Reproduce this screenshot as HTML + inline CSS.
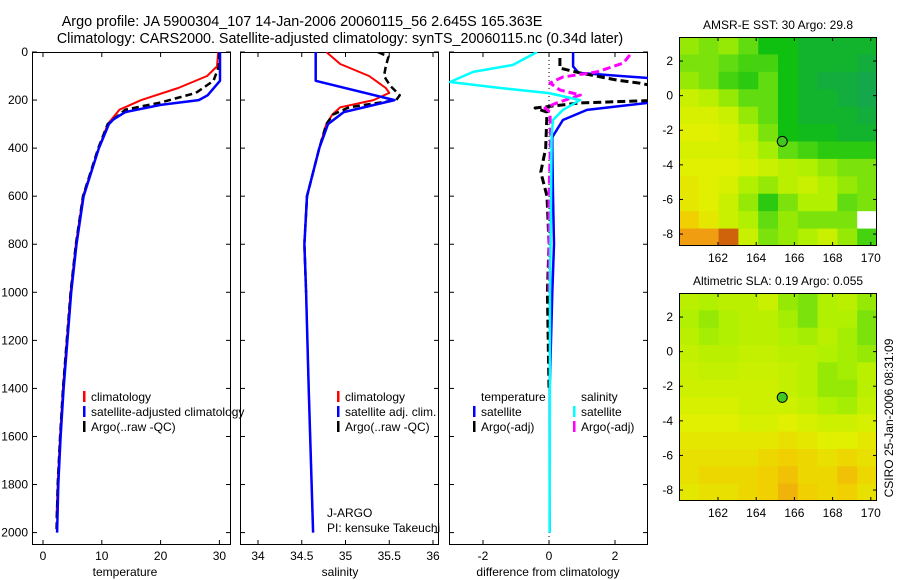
<!DOCTYPE html>
<html><head><meta charset="utf-8">
<style>
html,body{margin:0;padding:0;background:#fff;}
svg{display:block;font-family:"Liberation Sans",sans-serif;}
text{fill:#000;}
</style></head>
<body>
<svg id="fig" width="900" height="580" viewBox="0 0 900 580" xmlns="http://www.w3.org/2000/svg">
<text x="302" y="26" font-size="14.4" text-anchor="middle">Argo profile: JA 5900304_107 14-Jan-2006 20060115_56 2.645S 165.363E</text>
<text x="340" y="43" font-size="14.3" text-anchor="middle">Climatology: CARS2000. Satellite-adjusted climatology: synTS_20060115.nc (0.34d later)</text>
<g id="plots"></g>
<text x="125" y="576" font-size="12" text-anchor="middle">temperature</text>
<text x="340" y="576" font-size="12" text-anchor="middle">salinity</text>
<text x="548" y="576" font-size="12" text-anchor="middle">difference from climatology</text>
<text x="327" y="517" font-size="12">J-ARGO</text>
<text x="327" y="532" font-size="12">PI: kensuke Takeuchi</text>
<text x="778" y="29" font-size="12" text-anchor="middle">AMSR-E SST: 30 Argo: 29.8</text>
<text x="778" y="285" font-size="12" text-anchor="middle">Altimetric SLA: 0.19 Argo: 0.055</text>
<text transform="translate(893,418) rotate(-90)" font-size="12" text-anchor="middle">CSIRO 25-Jan-2006 08:31:09</text>
</svg>
<script>
// ---- profile data (depth in m) ----
const tClimDepth = [0,60,100,150,200,240,300,400,600,800,1000,1400,1600,1800,1940];
const tClim      = [29.8,29.6,27.9,23,16.7,13,11,9.5,6.8,5.6,4.7,3.4,2.9,2.5,2.3];
const tSatDepth  = [0,120,180,200,220,250,280,300,400,600,800,1000,1400,1600,1800,2000];
const tSat       = [30.1,30.1,28,26.5,20,14,12,11.2,9.5,6.9,5.7,4.8,3.5,3.0,2.6,2.4];
const tArgoDepth = [0,60,120,170,210,240,300,400,600,800,1000,1400,1600,1800,2000];
const tArgo      = [30,29.9,29,26,20,14,11,9.4,6.8,5.6,4.7,3.4,2.9,2.5,2.3];

const sClimDepth = [0,50,100,150,170,200,230,260,300,400,600,800,1000,1400,2000];
const sClim      = [34.78,34.94,35.27,35.46,35.5,35.32,34.94,34.85,34.78,34.7,34.56,34.53,34.55,34.58,34.63];
const sSatDepth  = [0,120,200,250,300,400,600,800,1000,1400,2000];
const sSat       = [34.66,34.66,35.56,34.98,34.8,34.7,34.56,34.53,34.55,34.58,34.63];
const sArgoDepth = [0,20,60,100,140,180,200,230,260,300,400,600,800,1000];
const sArgo      = [35.37,35.49,35.46,35.44,35.51,35.62,35.58,35.04,34.86,34.78,34.7,34.56,34.53,34.55];

const dTSatDepth  = [0,60,87,108,150,212,241,283,354,400,600,800,1000,1400,2000];
const dTSat       = [0.73,0.73,0.9,3.0,3.5,3.0,1.15,0.42,0.1,0.1,0.12,0.15,0.1,0.02,0.02];
const dTArgoDepth = [25,67,87,117,130,150,200,212,233,250,400,500,600,800,1000,1400];
const dTArgo      = [0.33,0.33,0.94,2.06,2.75,3.5,3.5,0.95,-0.42,-0.06,-0.1,-0.25,-0.06,0,-0.05,0];
const dSSatDepth  = [0,54,83,125,150,171,200,241,283,354,600,1000,2000];
const dSSat       = [-0.36,-1.1,-2.3,-3.0,-1.48,0,0.94,0.42,0.12,0.08,0.06,0.03,0.02];
const dSArgoDepth = [12,46,83,104,129,158,179,212,233,250,350,600,1000];
const dSArgo      = [2.45,2.25,1.45,0.42,0.03,0.33,0.95,0.24,-0.12,0.03,0.05,0,0];

const depthTicks = [0,200,400,600,800,1000,1200,1400,1600,1800,2000];
const tTicks = [0,10,20,30];
const sTicks = [34,34.5,35,35.5,36];
const sTickLabels = ["34","34.5","35","35.5","36"];
const dTicks = [-2,0,2];

// ---- map data (rows lat 3..-8, cols lon 160.5..169.5) ----
const sstGrid = [
[.55,.5,.55,.45,.3,.3,.25,.25,.25,.25],
[.5,.5,.45,.4,.4,.3,.25,.25,.25,.22],
[.55,.5,.4,.35,.45,.3,.25,.22,.22,.2],
[.65,.62,.55,.45,.45,.3,.25,.25,.22,.2],
[.68,.68,.65,.55,.45,.3,.25,.25,.25,.22],
[.7,.7,.68,.62,.5,.3,.28,.28,.25,.25],
[.68,.68,.68,.65,.58,.45,.4,.35,.35,.35],
[.7,.7,.7,.68,.65,.62,.6,.55,.5,.5],
[.72,.7,.68,.6,.55,.62,.65,.6,.55,.5],
[.72,.7,.65,.55,.35,.5,.6,.6,.45,.5],
[.78,.72,.65,.6,.45,.55,.5,.5,.5,-1],
[.85,.85,.92,.65,.5,.55,.6,.65,.55,.4]];
const slaGrid = [
[.62,.6,.62,.62,.65,.55,.5,.6,.62,.55],
[.6,.55,.6,.62,.62,.58,.5,.6,.6,.5],
[.62,.58,.6,.62,.62,.6,.58,.62,.58,.5],
[.64,.62,.62,.64,.64,.62,.62,.6,.58,.55],
[.65,.64,.64,.65,.65,.64,.62,.55,.58,.62],
[.66,.66,.66,.66,.66,.64,.62,.55,.55,.62],
[.68,.68,.68,.66,.66,.66,.64,.6,.58,.64],
[.7,.7,.7,.68,.68,.7,.68,.66,.66,.68],
[.72,.72,.72,.72,.72,.74,.72,.7,.7,.72],
[.74,.74,.74,.74,.76,.78,.76,.74,.76,.74],
[.74,.76,.76,.76,.78,.8,.76,.76,.8,.76],
[.72,.74,.74,.76,.78,.82,.78,.76,.78,.74]];
const latTicks = [2,0,-2,-4,-6,-8];
const lonTicks = [162,164,166,168,170];
const floatLon = 165.363, floatLat = -2.645;

const NS="http://www.w3.org/2000/svg";
const root=document.getElementById('plots');
function mk(tag,attrs,parent){const e=document.createElementNS(NS,tag);for(const k in attrs)e.setAttribute(k,attrs[k]);(parent||root).appendChild(e);return e;}
const TOP=52, BOT=545;
const yD = d => TOP + d*0.2403;

const panels=[
 {x0:32,x1:231,sx:v=>43+5.88*v,ticks:tTicks,labels:tTicks.map(String),name:'temperature-panel'},
 {x0:240,x1:439,sx:v=>258+87.5*(v-34),ticks:sTicks,labels:sTickLabels,name:'salinity-panel'},
 {x0:449,x1:648,sx:v=>549+33*v,ticks:dTicks,labels:dTicks.map(String),name:'difference-panel'}];

panels.forEach((p,i)=>{
  const g=mk('g',{});
  
  
  const cp=mk('clipPath',{id:'cp'+i},g);
  mk('rect',{x:p.x0,y:TOP,width:p.x1-p.x0,height:BOT-TOP},cp);
  p.g=g;
  const fr=mk('rect',{x:p.x0+0.5,y:TOP+0.5,width:p.x1-p.x0-1,height:BOT-TOP-1,fill:'none',stroke:'#000','stroke-width':1},g);
  
  
  p.ticks.forEach((t,k)=>{
    const x=p.sx(t);
    mk('line',{x1:x,x2:x,y1:BOT,y2:BOT-5,stroke:'#000'},g);
    mk('line',{x1:x,x2:x,y1:TOP,y2:TOP+5,stroke:'#000'},g);
    const tl=mk('text',{x:x,y:BOT+15,'font-size':12,'text-anchor':'middle'},g);
    tl.textContent=p.labels[k];
    
    
  });
  depthTicks.forEach(d=>{
    const y=yD(d);
    mk('line',{x1:p.x0,x2:p.x0+5,y1:y,y2:y,stroke:'#000'},g);
    mk('line',{x1:p.x1,x2:p.x1-5,y1:y,y2:y,stroke:'#000'},g);
    if(i===0){
      const tl=mk('text',{x:28,y:y+4,'font-size':12,'text-anchor':'end'},g);
      tl.textContent=String(d);
      
      
    }
  });
});

function line(p,depths,vals,color,w,dash,name){
  const pts=depths.map((d,k)=>p.sx(vals[k]).toFixed(1)+','+yD(d).toFixed(1)).join(' ');
  const attrs={points:pts,fill:'none',stroke:color,'stroke-width':w,'clip-path':'url(#cp'+panels.indexOf(p)+')','stroke-linejoin':'round'};
  if(dash)attrs['stroke-dasharray']=dash;
  const e=mk('polyline',attrs,p.g);
  
  
}
const [P1,P2,P3]=panels;
line(P1,tClimDepth,tClim,'#f00',2,null,'temperature-climatology-line');
line(P1,tArgoDepth,tArgo,'#000',2.5,'7,4','temperature-argo-line');
line(P1,tSatDepth,tSat,'#00f',2.5,null,'temperature-satellite-line');
line(P2,sClimDepth,sClim,'#f00',2,null,'salinity-climatology-line');
line(P2,sArgoDepth,sArgo,'#000',2.5,'7,4','salinity-argo-line');
line(P2,sSatDepth,sSat,'#00f',2.5,null,'salinity-satellite-line');
{const z=mk('line',{x1:P3.sx(0),x2:P3.sx(0),y1:TOP,y2:BOT,stroke:'#000','stroke-dasharray':'1,3'},P3.g);

}
line(P3,dTSatDepth,dTSat,'#00f',2.5,null,'temp-satellite-diff-line');
line(P3,dTArgoDepth,dTArgo,'#000',3,'8,4','temp-argo-diff-line');
line(P3,dSArgoDepth,dSArgo,'#f0f',3,'8,4','salinity-argo-diff-line');
line(P3,dSSatDepth,dSSat,'#0ff',2.5,null,'salinity-satellite-diff-line');

function legend(x,y,color,label,g){
  const m=mk('rect',{x:x,y:y-6,width:2.5,height:11,fill:color},g);
  
  
  const t=mk('text',{x:x+8,y:y+4,'font-size':12},g);
  t.textContent=label;
  
  
}
legend(83,397,'#f00','climatology',P1.g);
legend(83,412,'#00f','satellite-adjusted climatology',P1.g);
legend(83,427,'#000','Argo(..raw -QC)',P1.g);
legend(337,397,'#f00','climatology',P2.g);
legend(337,412,'#00f','satellite adj. clim.',P2.g);
legend(337,427,'#000','Argo(..raw -QC)',P2.g);
{const t=mk('text',{x:481,y:401,'font-size':12},P3.g);t.textContent='temperature';


const s=mk('text',{x:581,y:401,'font-size':12},P3.g);s.textContent='salinity';

}
legend(473,412,'#00f','satellite',P3.g);
legend(473,427,'#000','Argo(-adj)',P3.g);
legend(573,412,'#0ff','satellite',P3.g);
legend(573,427,'#f0f','Argo(-adj)',P3.g);

// ---- maps ----
const stops=[[.2,[20,168,74]],[.3,[16,192,16]],[.45,[96,220,16]],[.6,[176,240,0]],[.7,[224,240,0]],[.78,[240,208,0]],[.86,[240,150,20]],[1,[160,32,0]]];
function cmap(v){
  if(v<0)return '#fff';
  if(v<=stops[0][0])return 'rgb('+stops[0][1]+')';
  for(let i=1;i<stops.length;i++){if(v<=stops[i][0]){const a=stops[i-1],b=stops[i],t=(v-a[0])/(b[0]-a[0]);return 'rgb('+a[1].map((c,k)=>Math.round(c+(b[1][k]-c)*t)).join(',')+')';}}
  return 'rgb('+stops[stops.length-1][1]+')';
}
function drawMap(top,bot,grid,name){
  const x0=679,x1=877;
  const lx=lon=>718+(lon-162)*19.1;
  const ly0=top+(3.39-2)*17.3;
  const ly=lat=>ly0+(2-lat)*17.3;
  const g=mk('g',{});
  
  
  const cid='mc'+name;
  const cp=mk('clipPath',{id:cid},g);
  mk('rect',{x:x0,y:top,width:x1-x0,height:bot-top},cp);
  const cg=mk('g',{'clip-path':'url(#'+cid+')'},g);
  const nR=grid.length,nC=grid[0].length;
  const cw=(x1-x0)/nC, ch=(bot-top)/nR;
  grid.forEach((row,r)=>row.forEach((v,c)=>{
    const cell=mk('rect',{x:x0+c*cw,y:top+r*ch,width:cw+0.6,height:ch+0.6,fill:cmap(v)},cg);
    
    
  }));
  const f=mk('rect',{x:x0+0.5,y:top+0.5,width:x1-x0-1,height:bot-top-1,fill:'none',stroke:'#000'},g);
  
  
  latTicks.forEach(l=>{
    const y=ly(l);
    mk('line',{x1:x0,x2:x0+4,y1:y,y2:y,stroke:'#000'},g);
    mk('line',{x1:x1,x2:x1-4,y1:y,y2:y,stroke:'#000'},g);
    const t=mk('text',{x:673,y:y+4,'font-size':12,'text-anchor':'end'},g);
    t.textContent=String(l);
    
    
  });
  lonTicks.forEach(l=>{
    const x=lx(l);
    mk('line',{x1:x,x2:x,y1:bot,y2:bot-4,stroke:'#000'},g);
    mk('line',{x1:x,x2:x,y1:top,y2:top+4,stroke:'#000'},g);
    const t=mk('text',{x:x,y:bot+16,'font-size':12,'text-anchor':'middle'},g);
    t.textContent=String(l);
    
    
  });
  const c=mk('circle',{cx:lx(floatLon),cy:ly(floatLat),r:5,fill:'#40c820',stroke:'#000','stroke-width':1},g);
  
  
}
drawMap(37,246,sstGrid,'sst-map');
drawMap(293,501,slaGrid,'sla-map');
</script>
</body></html>
